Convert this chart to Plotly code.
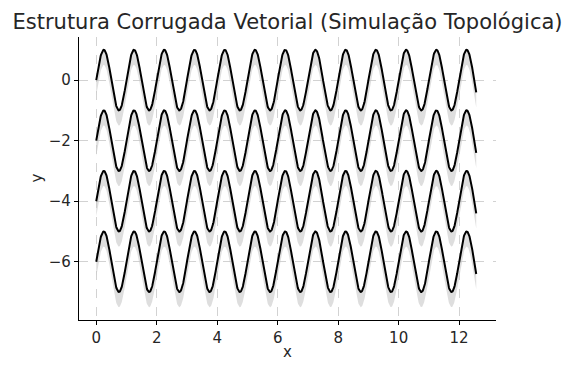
import numpy as np
import plotly.graph_objects as go

# Series parameters
offsets = [0, -2, -4, -6]          # vertical offset of each corrugation
amplitude = 1.0                    # peak height above offset
period = 1.0                       # x-distance between peaks
x_end = 4 * np.pi                  # last x value (~12.57)
shadow_depth = 0.5                 # depth of the grey shadow under each curve
x_ticks = [0, 2, 4, 6, 8, 10, 12]
y_ticks = [0, -2, -4, -6]

title = "Estrutura Corrugada Vetorial (Simulação Topológica)"

x = np.linspace(0, x_end, 1200)

fig = go.Figure()

for off in offsets:
    y = off + amplitude * np.sin(2 * np.pi * x / period)
    fig.add_trace(go.Scatter(x=x, y=y - shadow_depth, mode="lines",
                             line=dict(width=0, color="rgba(0,0,0,0)"),
                             hoverinfo="skip", showlegend=False))
    fig.add_trace(go.Scatter(x=x, y=y, mode="lines", fill="tonexty",
                             fillcolor="rgba(200,200,200,0.6)",
                             line=dict(width=0, color="rgba(0,0,0,0)"),
                             hoverinfo="skip", showlegend=False))

for off in offsets:
    y = off + amplitude * np.sin(2 * np.pi * x / period)
    fig.add_trace(go.Scatter(x=x, y=y, mode="lines",
                             line=dict(width=2, color="black"),
                             showlegend=False))

font_family = "DejaVu Sans"
L, R, T, B = 79, 69, 37, 46
W, H = 565, 366
fig.update_layout(
    width=W, height=H,
    margin=dict(l=L, r=R, t=T, b=B, autoexpand=False),
    paper_bgcolor="white", plot_bgcolor="white",
    font=dict(family=font_family, size=15, color="#262626"),
    title=dict(text=title, x=(L + W - R) / 2 / W, xanchor="center",
               y=1 - 22 / H, yanchor="middle",
               font=dict(size=21, color="#262626", family=font_family)),
    xaxis=dict(range=[-0.57, 13.22], tickvals=x_ticks, automargin=False,
               showgrid=True, gridcolor="#d2d2d2", griddash="dash", gridwidth=0.8,
               showline=True, linecolor="black", linewidth=1.2,
               ticks="outside", ticklen=4, tickcolor="black",
               zeroline=False, mirror=False),
    yaxis=dict(range=[-7.925, 1.425], tickvals=y_ticks, automargin=False,
               ticktext=["0", "\u22122", "\u22124", "\u22126"],
               showgrid=True, gridcolor="#d2d2d2", griddash="dash", gridwidth=0.8,
               showline=True, linecolor="black", linewidth=1.2,
               ticks="outside", ticklen=4, tickcolor="black",
               zeroline=False, mirror=False),
    annotations=[
        dict(text="x", xref="paper", yref="paper",
             x=0.5, y=-(352 - (H - B)) / (H - T - B), xanchor="center", yanchor="middle",
             showarrow=False, font=dict(size=15, color="#262626")),
        dict(text="y", xref="paper", yref="paper", textangle=-90,
             x=-(L - 36) / (W - L - R), y=0.5, xanchor="center", yanchor="middle",
             showarrow=False, font=dict(size=15, color="#262626")),
    ],
)

fig.write_html(
    "out.html",
    config={"displayModeBar": False},
    post_script="document.body.style.margin='0';document.body.style.overflow='hidden';",
)
